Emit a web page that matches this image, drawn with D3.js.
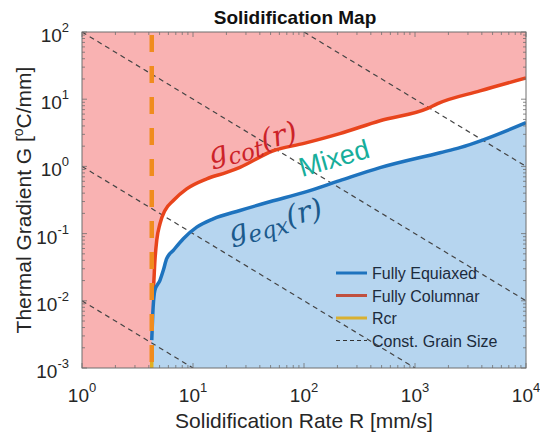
<!DOCTYPE html>
<html>
<head>
<meta charset="utf-8">
<script src="https://cdn.jsdelivr.net/npm/d3@7"></script>
<style>
  body { margin: 0; background: #fff; }
  svg { font-family: Arial, "Liberation Sans", sans-serif; }
</style>
</head>
<body>
<div id="chart"></div>
<script>
// Chart values
const rcr = 4.25;  // critical solidification rate [mm/s]

// Fully columnar boundary g_cot(r)
const colR = [4.3, 4.39, 4.54, 4.71, 5.04, 5.59, 6.65, 8.77, 13.3, 20.1, 26.5, 52.7, 100, 210, 484, 1300, 1600, 3850, 10000];
const colG = [0.012, 0.0144, 0.040, 0.079, 0.140, 0.221, 0.311, 0.463, 0.653, 0.816, 0.97, 1.71, 2.2, 3.07, 4.78, 7.3, 8.6, 13.3, 20.7];

// Fully equiaxed boundary g_eqx(r)
const eqR = [4.25, 4.33, 4.54, 5.04, 5.40, 5.79, 6.65, 8.18, 10.8, 15.2, 26.5, 50, 100, 210, 484, 1680, 2540, 10000];
const eqG = [0.0026, 0.0058, 0.0144, 0.0202, 0.0284, 0.0424, 0.0563, 0.084, 0.125, 0.166, 0.221, 0.30, 0.41, 0.615, 0.96, 1.6, 1.9, 4.47];

// Constant grain size lines, G * R = const
const grainConst = [1e-2, 1, 1e2, 1e4];

const xTicks = [1, 10, 100, 1000, 10000];
const yTicks = [1e-3, 1e-2, 1e-1, 1, 10, 100];

const legendLabels = ["Fully Equiaxed", "Fully Columnar", "Rcr", "Const. Grain Size"];

// Layout
const width = 540;
const height = 435;
const plot = { left: 82, right: 526, top: 32, bottom: 368 };

const svg = d3.select("#chart")
    .append("svg")
    .attr("width", width)
    .attr("height", height);

const x = d3.scaleLog().domain([1, 1e4]).range([plot.left, plot.right]);
const y = d3.scaleLog().domain([1e-3, 1e2]).range([plot.bottom, plot.top]);

svg.append("clipPath").attr("id", "clip")
    .append("rect")
    .attr("x", plot.left).attr("y", plot.top)
    .attr("width", plot.right - plot.left)
    .attr("height", plot.bottom - plot.top);

const g = svg.append("g").attr("clip-path", "url(#clip)");

const colPts = colR.map((r, i) => [r, colG[i]]);
const eqPts = eqR.map((r, i) => [r, eqG[i]]);

const line = d3.line()
    .x(d => x(d[0]))
    .y(d => y(d[1]))
    .curve(d3.curveMonotoneX);

// Pink: fully columnar region (left of Rcr and above g_cot)
const pinkPts = [[1, 1e-3], [rcr, 1e-3]].concat(colPts, [[1e4, 1e2], [1, 1e2]]);
g.append("path")
    .attr("d", d3.line().x(d => x(d[0])).y(d => y(d[1]))(pinkPts) + "Z")
    .attr("fill", "#f9b2b2");

// Blue: fully equiaxed region (below g_eqx)
const bluePts = [[rcr, 1e-3]].concat(eqPts, [[1e4, 1e-3]]);
g.append("path")
    .attr("d", d3.line().x(d => x(d[0])).y(d => y(d[1]))(bluePts) + "Z")
    .attr("fill", "#b6d5ef");

// Constant grain size lines
grainConst.forEach(c => {
    const r0 = Math.max(1, c / 1e2);
    const r1 = Math.min(1e4, c / 1e-3);
    g.append("line")
        .attr("x1", x(r0)).attr("y1", y(c / r0))
        .attr("x2", x(r1)).attr("y2", y(c / r1))
        .attr("stroke", "#444")
        .attr("stroke-width", 1.2)
        .attr("stroke-dasharray", "5,4");
});

// Boundary curves
g.append("path")
    .attr("d", line(colPts))
    .attr("fill", "none")
    .attr("stroke", "#e8441c")
    .attr("stroke-width", 3.5);

g.append("path")
    .attr("d", line(eqPts))
    .attr("fill", "none")
    .attr("stroke", "#1e73be")
    .attr("stroke-width", 3.5);

// Rcr: short yellow base plus orange dashed vertical
g.append("line")
    .attr("x1", x(rcr)).attr("x2", x(rcr))
    .attr("y1", y(1e-3)).attr("y2", y(2e-3))
    .attr("stroke", "#e0b020")
    .attr("stroke-width", 3.5);

g.append("line")
    .attr("x1", x(rcr)).attr("x2", x(rcr))
    .attr("y1", y(1e2)).attr("y2", y(1e-3))
    .attr("stroke", "#f08c1e")
    .attr("stroke-width", 4.5)
    .attr("stroke-dasharray", "17,14")
    .attr("stroke-dashoffset", 28);

// Axes box with inward ticks on all sides
const axisColor = "#6e6e6e";
svg.append("rect")
    .attr("x", plot.left).attr("y", plot.top)
    .attr("width", plot.right - plot.left)
    .attr("height", plot.bottom - plot.top)
    .attr("fill", "none")
    .attr("stroke", axisColor)
    .attr("stroke-width", 1);

const ticksG = svg.append("g").attr("stroke", axisColor).attr("stroke-width", 0.8);
const minor = d3.range(2, 10);

xTicks.forEach((t, i) => {
    const marks = [[t, 5]];
    if (i < xTicks.length - 1) minor.forEach(m => marks.push([t * m, 3]));
    marks.forEach(([v, len]) => {
        ticksG.append("line").attr("x1", x(v)).attr("x2", x(v))
            .attr("y1", plot.bottom).attr("y2", plot.bottom - len);
        ticksG.append("line").attr("x1", x(v)).attr("x2", x(v))
            .attr("y1", plot.top).attr("y2", plot.top + len);
    });
});

yTicks.forEach((t, i) => {
    const marks = [[t, 5]];
    if (i < yTicks.length - 1) minor.forEach(m => marks.push([t * m, 3]));
    marks.forEach(([v, len]) => {
        ticksG.append("line").attr("y1", y(v)).attr("y2", y(v))
            .attr("x1", plot.left).attr("x2", plot.left + len);
        ticksG.append("line").attr("y1", y(v)).attr("y2", y(v))
            .attr("x1", plot.right).attr("x2", plot.right - len);
    });
});

// Tick labels as 10^n
function powerLabel(sel, exp) {
    sel.append("tspan").text("10");
    sel.append("tspan").attr("dy", -10).attr("font-size", "13px").text(exp);
}

xTicks.forEach(t => {
    const txt = svg.append("text")
        .attr("x", x(t))
        .attr("y", 402)
        .attr("text-anchor", "middle")
        .attr("font-size", "19px")
        .attr("fill", "#262626");
    powerLabel(txt, Math.round(Math.log10(t)));
});

yTicks.forEach(t => {
    const txt = svg.append("text")
        .attr("x", plot.left - 13)
        .attr("y", y(t) + 10)
        .attr("text-anchor", "end")
        .attr("font-size", "19px")
        .attr("fill", "#262626");
    powerLabel(txt, Math.round(Math.log10(t)));
});

// Title and axis labels
svg.append("text")
    .attr("x", 295)
    .attr("y", 24)
    .attr("text-anchor", "middle")
    .attr("font-size", "19px")
    .attr("font-weight", "bold")
    .attr("fill", "#111")
    .text("Solidification Map");

svg.append("text")
    .attr("x", 304)
    .attr("y", 428)
    .attr("text-anchor", "middle")
    .attr("font-size", "21px")
    .attr("fill", "#262626")
    .text("Solidification Rate R [mm/s]");

const yLab = svg.append("text")
    .attr("transform", `translate(31, ${(plot.top + plot.bottom) / 2}) rotate(-90)`)
    .attr("text-anchor", "middle")
    .attr("font-size", "21px")
    .attr("fill", "#262626");
yLab.append("tspan").text("Thermal Gradient G [");
yLab.append("tspan").attr("dy", -8).attr("font-size", "14px").text("o");
yLab.append("tspan").attr("dy", 8).text("C/mm]");

// Region / curve annotations
function mathLabel(px, py, sub, color) {
    const t = svg.append("text")
        .attr("transform", `translate(${px}, ${py}) rotate(-15)`)
        .style("font-family", "'DejaVu Serif', 'Liberation Serif', serif")
        .style("font-style", "italic")
        .attr("font-size", "29px")
        .attr("fill", color);
    t.append("tspan").text("g");
    t.append("tspan").attr("dy", 6).attr("font-size", "23px").text(sub);
    t.append("tspan").attr("dy", -6).text("(r)");
}
mathLabel(211, 164, "cot", "#cc2229");
mathLabel(231, 242, "eqx", "#1b5a8c");

svg.append("text")
    .attr("transform", "translate(302, 177) rotate(-16)")
    .attr("font-size", "27px")
    .attr("fill", "#17ae9b")
    .text("Mixed");

// Legend
const legendRows = [273, 295.5, 318, 340.5];
const legendStyles = [
    { color: "#1e73be", width: 3, dash: null },
    { color: "#c0503f", width: 3, dash: null },
    { color: "#d9b030", width: 3, dash: null },
    { color: "#333", width: 1.2, dash: "4,3" }
];
const legend = svg.append("g");
legendLabels.forEach((lab, i) => {
    const st = legendStyles[i];
    legend.append("line")
        .attr("x1", 336).attr("x2", 367)
        .attr("y1", legendRows[i]).attr("y2", legendRows[i])
        .attr("stroke", st.color)
        .attr("stroke-width", st.width)
        .attr("stroke-dasharray", st.dash);
    legend.append("text")
        .attr("x", 372)
        .attr("y", legendRows[i] + 6)
        .attr("font-size", "16px")
        .attr("fill", "#1c2b3c")
        .text(lab);
});
</script>
</body>
</html>
